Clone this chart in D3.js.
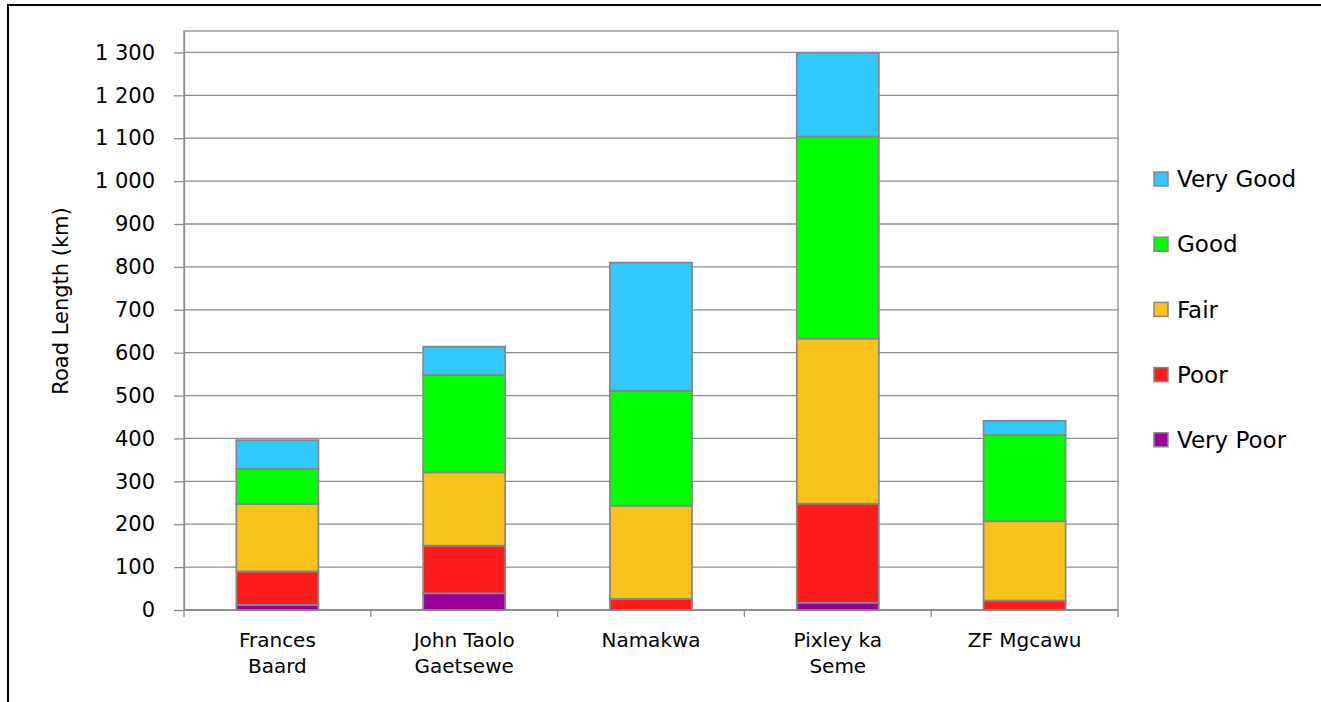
<!DOCTYPE html>
<html>
<head>
<meta charset="utf-8">
<script src="https://cdn.jsdelivr.net/npm/d3@7"></script>
<style>
  html, body { margin: 0; padding: 0; background: #fff; }
  svg { display: block; font-family: "DejaVu Sans", sans-serif; }
</style>
</head>
<body>
<svg id="chart" width="1321" height="702"></svg>
<script>
// Road network condition by district (km)
const districts = ["Frances Baard", "John Taolo Gaetsewe", "Namakwa", "Pixley ka Seme", "ZF Mgcawu"];
const districtLines = [["Frances", "Baard"], ["John Taolo", "Gaetsewe"], ["Namakwa"], ["Pixley ka", "Seme"], ["ZF Mgcawu"]];
const conditions = ["Very Poor", "Poor", "Fair", "Good", "Very Good"];
const veryPoor = [12, 39, 0, 17, 0];
const poor     = [78, 111, 26, 231, 22];
const fair     = [157, 171, 217, 385, 185];
const good     = [82, 227, 268, 471, 201];
const veryGood = [67, 66, 299, 195, 33];
const yTicks = [0, 100, 200, 300, 400, 500, 600, 700, 800, 900, 1000, 1100, 1200, 1300];
const colors = ["#990099", "#fc1c1c", "#fac31c", "#00ff00", "#33c7ff"];

const seriesValues = [veryPoor, poor, fair, good, veryGood];
const rows = districts.map((d, i) => {
  const r = { district: d };
  conditions.forEach((c, j) => { r[c] = seriesValues[j][i]; });
  return r;
});

const svg = d3.select("#chart");
const plot = { left: 184, right: 1118, top: 31, bottom: 610 };
const gridColor = "#8c8c8c";

// outer frame
svg.append("rect")
  .attr("x", 8).attr("y", 5).attr("width", 1400).attr("height", 800)
  .attr("fill", "none").attr("stroke", "#000").attr("stroke-width", 2);

const x = d3.scaleBand()
  .domain(districts)
  .range([plot.left, plot.right])
  .paddingInner(0.561)
  .paddingOuter(0.2805);

const y = d3.scaleLinear().domain([0, 1350]).range([plot.bottom, plot.top]);

const locale = d3.formatLocale({ decimal: ",", thousands: " ", grouping: [3], currency: ["", ""] });
const fmt = locale.format(",d");

// plot area frame
svg.append("rect")
  .attr("x", plot.left).attr("y", plot.top)
  .attr("width", plot.right - plot.left).attr("height", plot.bottom - plot.top)
  .attr("fill", "none").attr("stroke", gridColor).attr("stroke-width", 1.3);

// gridlines
svg.append("g").selectAll("line").data(yTicks).join("line")
  .attr("x1", plot.left).attr("x2", plot.right)
  .attr("y1", d => y(d)).attr("y2", d => y(d))
  .attr("stroke", gridColor).attr("stroke-width", 1.3);

// y axis
const yAxis = svg.append("g")
  .attr("transform", `translate(${plot.left},0)`)
  .call(d3.axisLeft(y).tickValues(yTicks).tickFormat(fmt).tickSize(10).tickSizeOuter(0).tickPadding(19));
yAxis.select(".domain").attr("stroke", gridColor).attr("stroke-width", 1.3);
yAxis.selectAll(".tick line").attr("stroke", gridColor).attr("stroke-width", 1.3);
yAxis.selectAll(".tick text").attr("font-size", 21).attr("font-family", "DejaVu Sans").attr("fill", "#000");

// x axis line and category dividers
svg.append("line")
  .attr("x1", plot.left).attr("x2", plot.right)
  .attr("y1", plot.bottom).attr("y2", plot.bottom)
  .attr("stroke", gridColor).attr("stroke-width", 1.3);
svg.append("g").selectAll("line").data(d3.range(districts.length + 1)).join("line")
  .attr("x1", i => plot.left + i * x.step()).attr("x2", i => plot.left + i * x.step())
  .attr("y1", plot.bottom).attr("y2", plot.bottom + 7)
  .attr("stroke", gridColor).attr("stroke-width", 1.3);

// category labels
const catG = svg.append("g").selectAll("text").data(districts).join("text")
  .attr("x", d => x(d) + x.bandwidth() / 2)
  .attr("text-anchor", "middle")
  .attr("font-size", 20)
  .attr("fill", "#000");
catG.each(function (d, i) {
  d3.select(this).selectAll("tspan").data(districtLines[i]).join("tspan")
    .attr("x", x(d) + x.bandwidth() / 2)
    .attr("y", (t, k) => 647 + k * 26)
    .text(t => t);
});

// y axis title
svg.append("text")
  .attr("transform", `translate(68,301) rotate(-90)`)
  .attr("text-anchor", "middle")
  .attr("font-size", 21)
  .attr("fill", "#000")
  .text("Road Length (km)");

// stacked bars
const stacked = d3.stack().keys(conditions)(rows);
svg.append("g").selectAll("g").data(stacked).join("g")
  .attr("fill", (s, i) => colors[i])
  .selectAll("rect").data(s => s.filter(p => p[1] - p[0] > 0)).join("rect")
  .attr("x", p => x(p.data.district))
  .attr("width", x.bandwidth())
  .attr("y", p => y(p[1]))
  .attr("height", p => y(p[0]) - y(p[1]))
  .attr("stroke", "#878787")
  .attr("stroke-width", 1.8);

// legend (top entry is Very Good)
const legendOrder = conditions.slice().reverse();
const legend = svg.append("g").selectAll("g").data(legendOrder).join("g")
  .attr("transform", (d, i) => `translate(1154,${179 + i * 65.2})`);
legend.append("rect")
  .attr("x", 0).attr("y", -7).attr("width", 14).attr("height", 14)
  .attr("fill", d => colors[conditions.indexOf(d)])
  .attr("stroke", "#878787").attr("stroke-width", 1.5);
legend.append("text")
  .attr("x", 23).attr("y", 0).attr("dy", "0.36em")
  .attr("font-size", 23)
  .attr("fill", "#000")
  .text(d => d);
</script>
</body>
</html>
